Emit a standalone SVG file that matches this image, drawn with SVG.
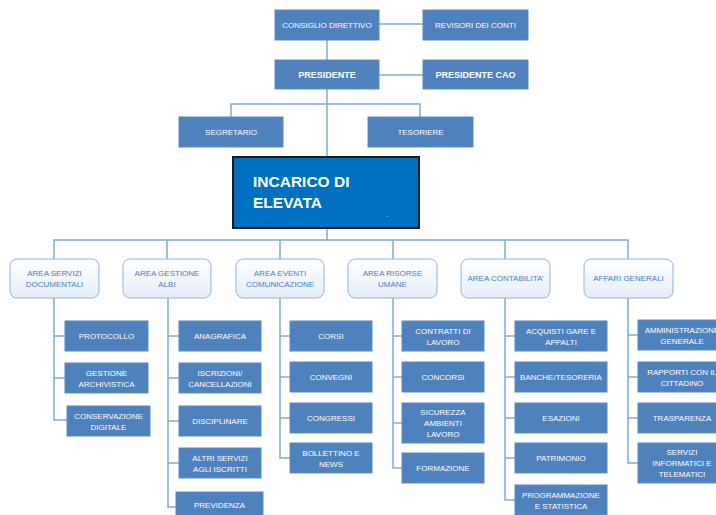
<svg xmlns="http://www.w3.org/2000/svg" width="716" height="515" viewBox="0 0 716 515">
<defs>
<linearGradient id="areaGrad" x1="0" y1="0" x2="0" y2="1">
<stop offset="0" stop-color="#ffffff"/>
<stop offset="1" stop-color="#e4edf8"/>
</linearGradient>
<style>
.box{fill:#4f81bd;stroke:#5a8ac3;stroke-width:1}
.area{fill:url(#areaGrad);stroke:#8fb3df;stroke-width:1}
.t{font-family:"Liberation Sans",Arial,sans-serif;font-size:8px;fill:#ffffff;text-anchor:middle}
.tb{font-family:"Liberation Sans",Arial,sans-serif;font-size:9px;font-weight:bold;fill:#ffffff;text-anchor:middle}
.ta{font-family:"Liberation Sans",Arial,sans-serif;font-size:8px;fill:#4a7ebb;text-anchor:middle}
.big{font-family:"Liberation Sans",Arial,sans-serif;font-size:15.5px;font-weight:bold;fill:#ffffff}
.ln{fill:none;stroke:#7fa9d9;stroke-width:1.5}
</style>
</defs>
<rect width="716" height="515" fill="#ffffff"/>

<g id="connectors">
<path class="ln" d="M379 24H423M379 75H423M327 40V60M327 89V157M231 117V104H420V117M327 228V240M54 259V240H628V259M167 240V259M280 240V259M393 240V259M505 240V259"/>
<path class="ln" d="M54 298V420H67M54 336H65M54 378H65"/>
<path class="ln" d="M168 298V507H176M168 336H179M168 378H179M168 421H179M168 463H179"/>
<path class="ln" d="M280 298V458H290M280 336H290M280 377H290M280 418H290"/>
<path class="ln" d="M393 298V468H402M393 336H402M393 377H402M393 423H402"/>
<path class="ln" d="M505 298V500H515M505 336H515M505 377H515M505 418H515M505 458H515"/>
<path class="ln" d="M628 298V463H638M628 335H638M628 377H638M628 418H638"/>
</g>

<g id="consiglio"><rect class="box" x="275" y="10" width="104" height="30"/><text class="t" x="327" y="28">CONSIGLIO DIRETTIVO</text></g>
<g id="revisori"><rect class="box" x="423" y="10" width="105" height="30"/><text class="t" x="475.5" y="28">REVISORI DEI CONTI</text></g>
<g id="presidente"><rect class="box" x="275" y="60" width="104" height="29"/><text class="tb" x="327" y="78">PRESIDENTE</text></g>
<g id="presidente-cao"><rect class="box" x="423" y="60" width="105" height="29"/><text class="tb" x="475.5" y="78">PRESIDENTE CAO</text></g>
<g id="segretario"><rect class="box" x="179" y="117" width="104" height="30"/><text class="t" x="231" y="135">SEGRETARIO</text></g>
<g id="tesoriere"><rect class="box" x="368" y="117" width="105" height="30"/><text class="t" x="420.5" y="135">TESORIERE</text></g>

<g id="incarico">
<rect x="233" y="157" width="186" height="71" fill="#0070c0" stroke="#1c1c1c" stroke-width="2"/>
<text class="big" x="253" y="187">INCARICO DI</text>
<text class="big" x="253" y="208">ELEVATA</text>
<text x="386" y="221" font-family="Liberation Sans, sans-serif" font-size="8" fill="#ffffff">`</text>
</g>

<g id="area-servizi"><rect class="area" x="10" y="259" width="89" height="39" rx="7"/><text class="ta" x="54.5" y="276">AREA SERVIZI</text><text class="ta" x="54.5" y="287">DOCUMENTALI</text></g>
<g id="area-albi"><rect class="area" x="123" y="259" width="88" height="39" rx="7"/><text class="ta" x="167" y="276">AREA GESTIONE</text><text class="ta" x="167" y="287">ALBI</text></g>
<g id="area-eventi"><rect class="area" x="236" y="259" width="88" height="39" rx="7"/><text class="ta" x="280" y="276">AREA EVENTI</text><text class="ta" x="280" y="287">COMUNICAZIONE</text></g>
<g id="area-risorse"><rect class="area" x="348" y="259" width="89" height="39" rx="7"/><text class="ta" x="392.5" y="276">AREA RISORSE</text><text class="ta" x="392.5" y="287">UMANE</text></g>
<g id="area-contabilita"><rect class="area" x="461" y="259" width="89" height="39" rx="7"/><text class="ta" x="505.5" y="281">AREA CONTABILITA’</text></g>
<g id="affari-generali"><rect class="area" x="584" y="259" width="89" height="39" rx="7"/><text class="ta" x="628.5" y="281">AFFARI GENERALI</text></g>

<g id="protocollo"><rect class="box" x="65" y="321" width="83" height="30"/><text class="t" x="106.5" y="339">PROTOCOLLO</text></g>
<g id="archivistica"><rect class="box" x="65" y="363" width="83" height="30"/><text class="t" x="106.5" y="375.5">GESTIONE</text><text class="t" x="106.5" y="386.5">ARCHIVISTICA</text></g>
<g id="conservazione"><rect class="box" x="67" y="406" width="83" height="30"/><text class="t" x="108.5" y="418.5">CONSERVAZIONE</text><text class="t" x="108.5" y="429.5">DIGITALE</text></g>

<g id="anagrafica"><rect class="box" x="179" y="321" width="82" height="30"/><text class="t" x="220" y="339">ANAGRAFICA</text></g>
<g id="iscrizioni"><rect class="box" x="179" y="363" width="82" height="30"/><text class="t" x="220" y="375.5">ISCRIZIONI/</text><text class="t" x="220" y="386.5">CANCELLAZIONI</text></g>
<g id="disciplinare"><rect class="box" x="179" y="406" width="82" height="30"/><text class="t" x="220" y="424">DISCIPLINARE</text></g>
<g id="altri-servizi"><rect class="box" x="179" y="448" width="82" height="30"/><text class="t" x="220" y="460.5">ALTRI SERVIZI</text><text class="t" x="220" y="471.5">AGLI ISCRITTI</text></g>
<g id="previdenza"><rect class="box" x="176" y="492" width="87" height="30"/><text class="t" x="219.5" y="508">PREVIDENZA</text></g>

<g id="corsi"><rect class="box" x="290" y="321" width="82" height="30"/><text class="t" x="331" y="339">CORSI</text></g>
<g id="convegni"><rect class="box" x="290" y="362" width="82" height="30"/><text class="t" x="331" y="380">CONVEGNI</text></g>
<g id="congressi"><rect class="box" x="290" y="403" width="82" height="30"/><text class="t" x="331" y="421">CONGRESSI</text></g>
<g id="bollettino"><rect class="box" x="290" y="443" width="82" height="30"/><text class="t" x="331" y="455.5">BOLLETTINO E</text><text class="t" x="331" y="466.5">NEWS</text></g>

<g id="contratti"><rect class="box" x="402" y="321" width="82" height="30"/><text class="t" x="443" y="333.5">CONTRATTI DI</text><text class="t" x="443" y="344.5">LAVORO</text></g>
<g id="concorsi"><rect class="box" x="402" y="362" width="82" height="30"/><text class="t" x="443" y="380">CONCORSI</text></g>
<g id="sicurezza"><rect class="box" x="402" y="403" width="82" height="40"/><text class="t" x="443" y="414.5">SICUREZZA</text><text class="t" x="443" y="425.5">AMBIENTI</text><text class="t" x="443" y="436.5">LAVORO</text></g>
<g id="formazione"><rect class="box" x="402" y="453" width="82" height="30"/><text class="t" x="443" y="471">FORMAZIONE</text></g>

<g id="acquisti"><rect class="box" x="515" y="321" width="92" height="30"/><text class="t" x="561" y="333.5">ACQUISTI GARE E</text><text class="t" x="561" y="344.5">APPALTI</text></g>
<g id="banche"><rect class="box" x="515" y="362" width="92" height="30"/><text class="t" x="561" y="380">BANCHE/TESORERIA</text></g>
<g id="esazioni"><rect class="box" x="515" y="403" width="92" height="30"/><text class="t" x="561" y="421">ESAZIONI</text></g>
<g id="patrimonio"><rect class="box" x="515" y="443" width="92" height="30"/><text class="t" x="561" y="461">PATRIMONIO</text></g>
<g id="programmazione"><rect class="box" x="515" y="485" width="92" height="30"/><text class="t" x="561" y="497.5">PROGRAMMAZIONE</text><text class="t" x="561" y="508.5">E STATISTICA</text></g>

<g id="amministrazione"><rect class="box" x="638" y="320" width="88" height="30"/><text class="t" x="682" y="332.5">AMMINISTRAZIONE</text><text class="t" x="682" y="343.5">GENERALE</text></g>
<g id="rapporti"><rect class="box" x="638" y="362" width="88" height="30"/><text class="t" x="682" y="374.5">RAPPORTI CON IL</text><text class="t" x="682" y="385.5">CITTADINO</text></g>
<g id="trasparenza"><rect class="box" x="638" y="403" width="88" height="30"/><text class="t" x="682" y="421">TRASPARENZA</text></g>
<g id="servizi-informatici"><rect class="box" x="638" y="443" width="88" height="40"/><text class="t" x="682" y="454.5">SERVIZI</text><text class="t" x="682" y="465.5">INFORMATICI E</text><text class="t" x="682" y="476.5">TELEMATICI</text></g>
</svg>
